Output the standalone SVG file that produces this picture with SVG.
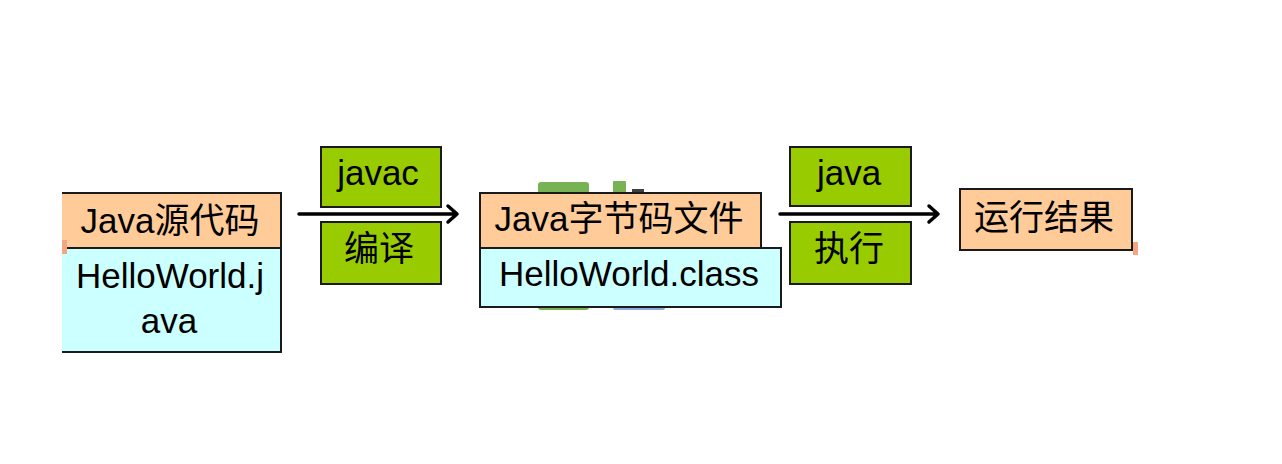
<svg xmlns="http://www.w3.org/2000/svg" width="1282" height="464" viewBox="0 0 1282 464">
<defs>
<style>
.t{font-family:"Liberation Sans","Noto Sans CJK SC",sans-serif;font-size:35px;fill:#000;text-anchor:middle}
.or{fill:#FFCC99;stroke:#1a1a1a;stroke-width:2}
.bl{fill:#CCFFFF;stroke:#1a1a1a;stroke-width:2}
.gr{fill:#99CC00;stroke:#1a1a1a;stroke-width:2}
.ar{fill:none;stroke:#000;stroke-width:3.5;stroke-linecap:round;stroke-linejoin:round}
</style>
</defs>
<rect width="1282" height="464" fill="#fff"/>
<g id="decor">
<rect x="538" y="182" width="51" height="128" rx="3" fill="#77B255"/>
<rect x="613" y="181" width="13" height="40" rx="1" fill="#77B255"/>
<rect x="613" y="290" width="52" height="20" rx="2" fill="#8EA9DB"/>
<rect x="632" y="189" width="12" height="6" fill="#404040"/>
</g>
<g id="source">
<path class="or" d="M62,193 H281 V248 H62"/>
<path class="bl" d="M62,248 H281 V352 H62"/>
<rect x="62" y="240" width="5" height="14" fill="#F4A582"/>
<text class="t" x="170" y="233">Java源代码</text>
<text class="t" x="170" y="288">HelloWorld.j</text>
<text class="t" x="169" y="333">ava</text>
</g>
<g id="javac">
<rect class="gr" x="321" y="147" width="120" height="60"/>
<text class="t" x="378" y="185">javac</text>
</g>
<g id="compile">
<rect class="gr" x="321" y="222" width="120" height="62"/>
<text class="t" x="379" y="261">编译</text>
</g>
<g id="bytecode">
<rect class="or" x="480" y="193" width="281" height="55"/>
<rect class="bl" x="480" y="248" width="301" height="59"/>
<text class="t" x="619" y="231">Java字节码文件</text>
<text class="t" x="629" y="286">HelloWorld.class</text>
</g>
<g id="java">
<rect class="gr" x="790" y="147" width="121" height="59"/>
<text class="t" x="849" y="185">java</text>
</g>
<g id="execute">
<rect class="gr" x="790" y="222" width="121" height="62"/>
<text class="t" x="849" y="261">执行</text>
</g>
<g id="result">
<rect class="or" x="960" y="189" width="172" height="61"/>
<rect x="1133" y="242" width="5" height="13" fill="#F4A582"/>
<text class="t" x="1044" y="230">运行结果</text>
</g>
<g id="connectors">
<path class="ar" d="M299,214 H457 M448,206 L457,214 L448,222"/>
<path class="ar" d="M780,214 H938 M929,206 L938,214 L929,222"/>
</g>
</svg>
